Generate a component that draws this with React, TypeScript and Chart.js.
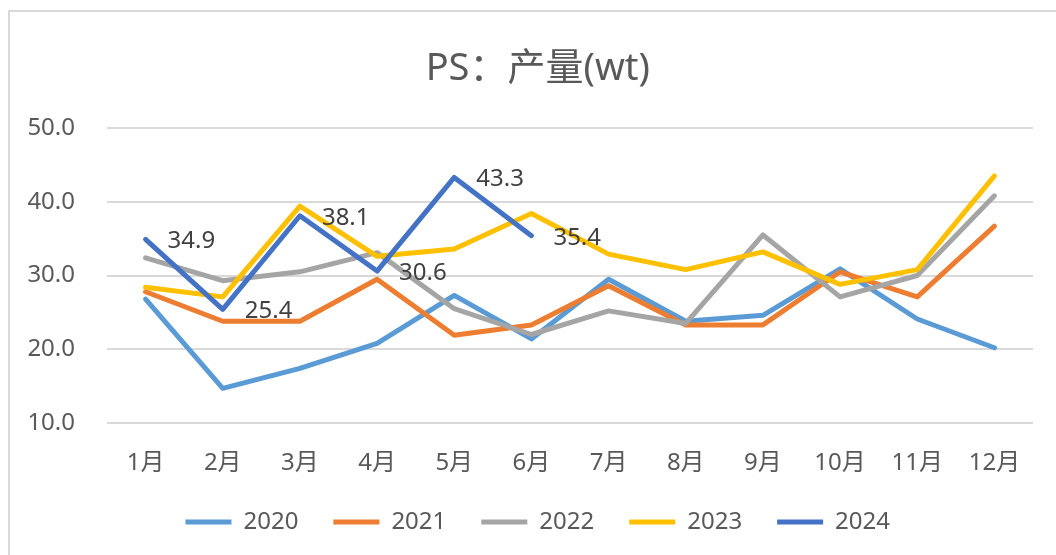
import { useEffect, useRef } from "react";
import { Chart, registerables } from "chart.js";

Chart.register(...registerables);

const months = ["1月", "2月", "3月", "4月", "5月", "6月", "7月", "8月", "9月", "10月", "11月", "12月"];
const seriesNames = ["2020", "2021", "2022", "2023", "2024"];
const s2020 = [26.8, 14.7, 17.4, 20.8, 27.3, 21.4, 29.5, 23.8, 24.6, 30.9, 24.1, 20.2];
const s2021 = [27.8, 23.8, 23.8, 29.5, 21.9, 23.3, 28.6, 23.3, 23.3, 30.5, 27.1, 36.7];
const s2022 = [32.4, 29.3, 30.5, 33.1, 25.5, 22.0, 25.2, 23.5, 35.5, 27.1, 30.0, 40.8];
const s2023 = [28.4, 27.1, 39.4, 32.6, 33.6, 38.4, 32.9, 30.8, 33.2, 28.8, 30.8, 43.5];
const s2024 = [34.9, 25.4, 38.1, 30.6, 43.3, 35.4];
const seriesColors = ["#5B9BD5", "#ED7D31", "#A5A5A5", "#FFC000", "#4472C4"];
const yTicks = [10, 20, 30, 40, 50];

const FONT = '"Noto Sans", "Noto Sans CJK SC", sans-serif';

export default function App() {
  const ref = useRef<HTMLCanvasElement>(null);

  useEffect(() => {
    if (!ref.current) return;
    const allSeries = [s2020, s2021, s2022, s2023, s2024];

    const labelPlugin = {
      id: "labels2024",
      afterDatasetsDraw(chart: any) {
        const ctx = chart.ctx;
        const meta = chart.getDatasetMeta(4);
        ctx.save();
        ctx.font = `24px ${FONT}`;
        ctx.fillStyle = "#404040";
        ctx.textAlign = "left";
        ctx.textBaseline = "middle";
        meta.data.forEach((pt: any, i: number) => {
          const v = s2024[i];
          if (v == null) return;
          ctx.fillText(v.toFixed(1), pt.x + 22, pt.y + 2);
        });
        ctx.restore();
      },
    };

    const chart = new Chart(ref.current, {
      type: "line",
      data: {
        labels: months,
        datasets: seriesNames.map((name, i) => ({
          label: name,
          data: allSeries[i],
          borderColor: seriesColors[i],
          backgroundColor: seriesColors[i],
          borderWidth: 5,
          pointRadius: 0,
          pointHoverRadius: 0,
          tension: 0,
          borderCapStyle: "round" as const,
          borderJoinStyle: "round" as const,
          fill: false,
          order: 5 - i,
          yAxisID: "y",
        })),
      },
      options: {
        responsive: false,
        animation: false,
        layout: { padding: { left: 19.5, right: 0, top: 0, bottom: 11 } },
        plugins: {
          title: {
            display: true,
            text: "PS：产量(wt)",
            color: "#595959",
            font: { family: FONT, size: 38, weight: "normal", lineHeight: 1.2 },
            padding: { top: 46, bottom: 36.4 },
          },
          legend: {
            position: "bottom",
            labels: {
              usePointStyle: true,
              pointStyle: "line",
              pointStyleWidth: 46,
              padding: 35,
              color: "#595959",
              font: { family: FONT, size: 24 },
              sort: (a: any, b: any) => a.datasetIndex - b.datasetIndex,
            },
          },
          tooltip: { enabled: false },
        },
        scales: {
          x: {
            offset: true,
            grid: { display: false, drawTicks: true, tickLength: 28, tickColor: "rgba(0,0,0,0)" },
            border: { display: false },
            ticks: {
              padding: 0,
              color: "#595959",
              font: { family: FONT, size: 24, lineHeight: 1.0 },
              maxRotation: 0,
              autoSkip: false,
            },
          },
          y: {
            min: 10,
            max: 50,
            afterFit: (scale: any) => {
              scale.width = 87.5;
            },
            afterBuildTicks: (scale: any) => {
              scale.ticks = yTicks.map((v) => ({ value: v }));
            },
            grid: { color: "#D9D9D9", lineWidth: 2, drawTicks: false },
            border: { display: false },
            ticks: {
              padding: 32,
              color: "#595959",
              font: { family: FONT, size: 24 },
              callback: (v: any) => Number(v).toFixed(1),
            },
          },
          yRight: {
            position: "right",
            display: true,
            afterFit: (scale: any) => {
              scale.width = 23;
            },
            grid: { display: false, drawTicks: false },
            border: { display: false },
            ticks: { display: false },
          },
        },
      },
      plugins: [labelPlugin],
    });

    return () => chart.destroy();
  }, []);

  return (
    <>
      <div
        style={{
          position: "fixed",
          left: 8,
          top: 10,
          width: 2000,
          height: 2000,
          borderLeft: "2px solid #D9D9D9",
          borderTop: "2px solid #D9D9D9",
        }}
      />
      <div style={{ position: "fixed", left: 0, top: 0, width: 1056, height: 555 }}>
        <canvas ref={ref} width={1056} height={555} style={{ display: "block" }} />
      </div>
    </>
  );
}
